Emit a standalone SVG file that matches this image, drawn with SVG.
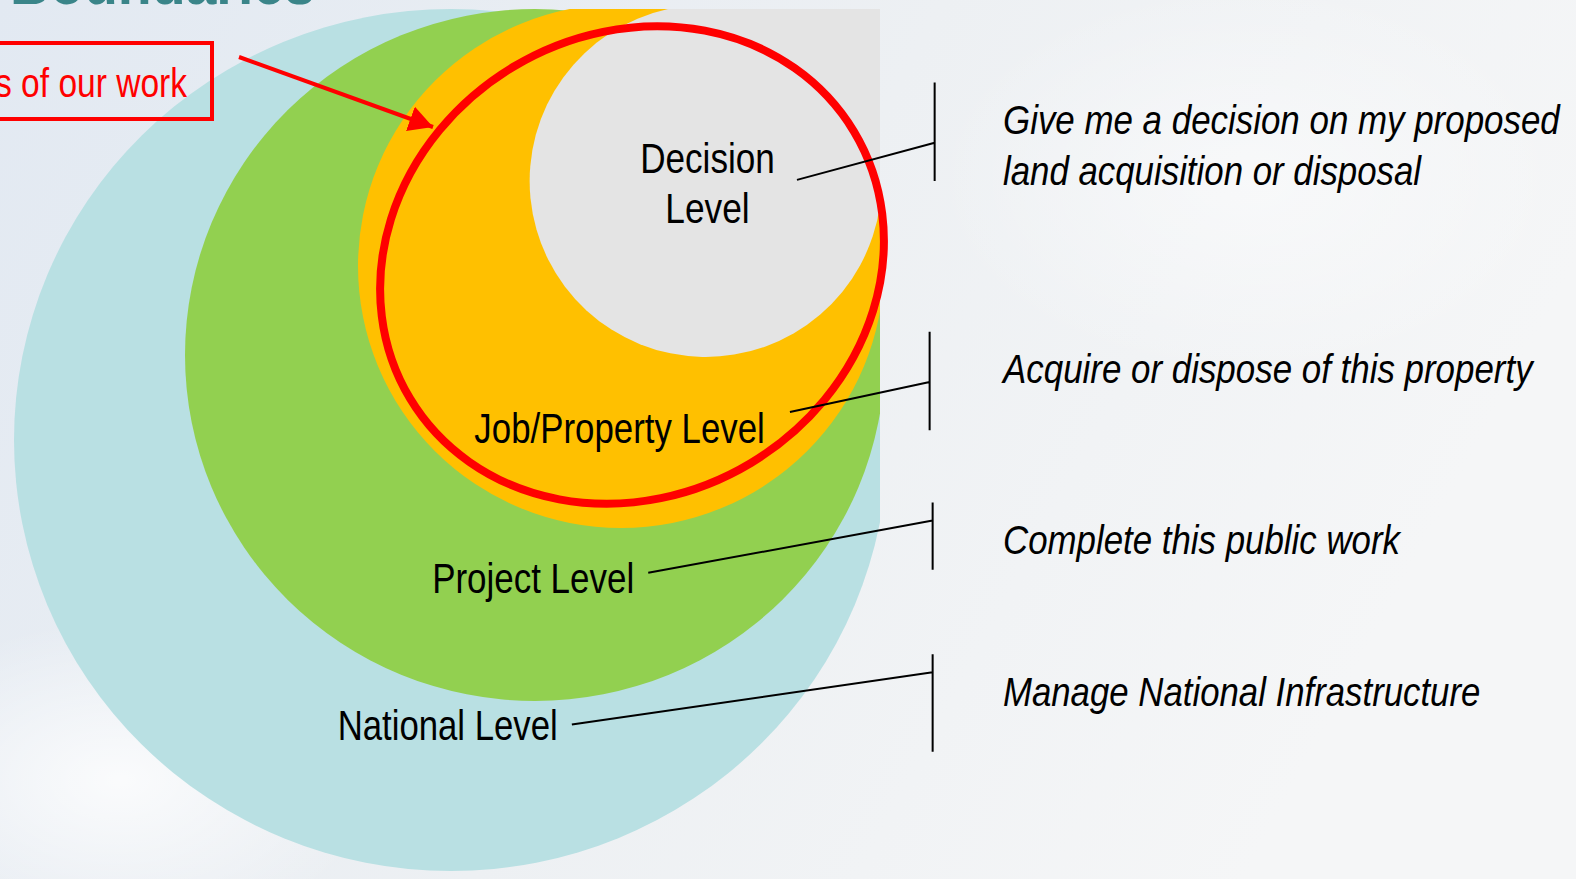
<svg xmlns="http://www.w3.org/2000/svg" width="1576" height="879" viewBox="0 0 1576 879">
<style>
.lbl{font-family:"Liberation Sans",Arial,sans-serif;font-size:42px;fill:#000}
.desc{font-family:"Liberation Sans",Arial,sans-serif;font-size:41px;font-style:italic;fill:#000}
.lead{stroke:#000;stroke-width:2;fill:none}
</style>
<defs>
<linearGradient id="bg" x1="0" y1="0" x2="1" y2="0.3">
<stop offset="0" stop-color="#e2e9f2"/>
<stop offset="0.55" stop-color="#edf0f3"/>
<stop offset="1" stop-color="#f5f6f7"/>
</linearGradient>
<radialGradient id="glow1" cx="0.5" cy="0.5" r="0.5">
<stop offset="0" stop-color="#ffffff" stop-opacity="0.8"/>
<stop offset="1" stop-color="#ffffff" stop-opacity="0"/>
</radialGradient>
<clipPath id="clip"><rect x="0" y="9" width="880" height="870"/></clipPath>
<marker id="arr" viewBox="0 0 24 26" refX="24" refY="13" markerWidth="6" markerHeight="6.5" orient="auto" markerUnits="strokeWidth">
<path d="M0,0 L24,13 L0,26 z" fill="#ff0000"/>
</marker>
</defs>
<rect x="0" y="0" width="1576" height="879" fill="url(#bg)"/>
<ellipse cx="120" cy="780" rx="260" ry="160" fill="url(#glow1)"/>
<ellipse cx="1250" cy="180" rx="320" ry="200" fill="url(#glow1)" opacity="0.6"/>
<text x="10" y="4" font-family="Liberation Sans,Arial,sans-serif" font-weight="bold" font-size="62" fill="#3a8589" textLength="305" lengthAdjust="spacingAndGlyphs">Boundaries</text>

<g clip-path="url(#clip)">
<g id="national"><ellipse cx="451" cy="440" rx="437" ry="431" fill="#b9e0e3"/></g>
<g id="project"><ellipse cx="535" cy="355" rx="350" ry="346" fill="#92d050"/></g>
<g id="job"><ellipse cx="621" cy="266" rx="263" ry="262" fill="#ffc000"/></g>
<g id="decision"><path d="M880,205 A176,176 0 1,1 668,9 L880,9 Z" fill="#e4e4e4"/></g>
</g>
<g id="boundary"><ellipse cx="632" cy="265" rx="259" ry="231" transform="rotate(-31 632 265)" fill="none" stroke="#ff0000" stroke-width="8"/></g>

<g id="callout">
<rect x="-10" y="43" width="222" height="76" fill="none" stroke="#ff0000" stroke-width="4"/>
<text x="187" y="97" font-family="Liberation Sans,Arial,sans-serif" font-size="40" fill="#ff0000" text-anchor="end" textLength="192" lengthAdjust="spacingAndGlyphs">s of our work</text>
</g>

<g transform="scale(1.005)">
<g id="labels">
<text class="lbl" x="637" y="172" textLength="134" lengthAdjust="spacingAndGlyphs">Decision</text>
<text class="lbl" x="662" y="222" textLength="84" lengthAdjust="spacingAndGlyphs">Level</text>
<text class="lbl" x="472" y="441" textLength="289" lengthAdjust="spacingAndGlyphs">Job/Property Level</text>
<text class="lbl" x="430" y="590" textLength="201" lengthAdjust="spacingAndGlyphs">Project Level</text>
<text class="lbl" x="336" y="736" textLength="219" lengthAdjust="spacingAndGlyphs">National Level</text>
</g>

<g id="descriptions">
<text class="desc" x="998" y="133" textLength="554" lengthAdjust="spacingAndGlyphs">Give me a decision on my proposed</text>
<text class="desc" x="998" y="184" textLength="416" lengthAdjust="spacingAndGlyphs">land acquisition or disposal</text>
<text class="desc" x="998" y="381" textLength="527" lengthAdjust="spacingAndGlyphs">Acquire or dispose of this property</text>
<text class="desc" x="998" y="551" textLength="395" lengthAdjust="spacingAndGlyphs">Complete this public work</text>
<text class="desc" x="998" y="702" textLength="475" lengthAdjust="spacingAndGlyphs">Manage National Infrastructure</text>
</g>

<g id="leaders">
<path class="lead" d="M793,179 L930,142 M930,82 L930,180"/>
<path class="lead" d="M786,410 L925,380 M925,330 L925,428"/>
<path class="lead" d="M645,570 L928,518 M928,500 L928,567"/>
<path class="lead" d="M569,721 L928,669 M928,651 L928,748"/>
</g>
</g>

<g id="connectors">
<line x1="239" y1="57" x2="433" y2="127" stroke="#ff0000" stroke-width="4" marker-end="url(#arr)"/>
</g>
</svg>
